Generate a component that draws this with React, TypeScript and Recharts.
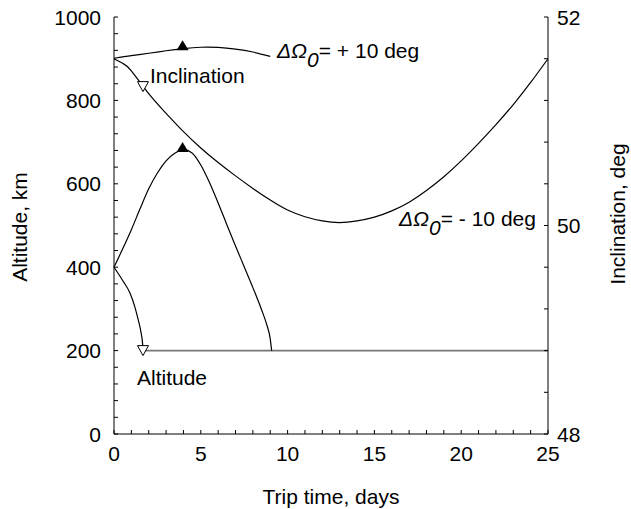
import { ComposedChart, Line, Scatter, XAxis, YAxis } from 'recharts'

// trip time (days) and values
const incPlusT = [0, 1, 2, 3, 4, 5, 6, 7, 8, 9]
const incPlusDeg = [51.604, 51.63, 51.652, 51.676, 51.697, 51.71, 51.708, 51.692, 51.664, 51.622]

const incMinusT = [0, 0.5, 1, 2, 3, 4, 5, 6, 7, 8, 9, 10, 11, 12, 13, 14, 15, 16, 17, 18, 19, 20, 21, 22, 23, 24, 25]
const incMinusDeg = [
  51.6, 51.556, 51.484, 51.264, 51.076, 50.9, 50.744, 50.604, 50.476, 50.356, 50.244, 50.148, 50.084,
  50.044, 50.028, 50.044, 50.08, 50.14, 50.224, 50.336, 50.468, 50.62, 50.788, 50.968, 51.16, 51.372, 51.6,
]

const altPlusT = [0, 0.5, 1, 1.5, 2, 2.5, 3, 3.5, 4, 4.5, 5, 5.5, 6, 6.5, 7, 7.5, 8, 8.5, 8.8, 9, 9.08]
const altPlusKm = [400, 444, 490, 540, 588, 626, 655, 673, 682, 674, 645, 603, 554, 502, 451, 401, 351, 298, 262, 228, 200]

const altMinusT = [0, 0.5, 0.92, 1.2, 1.4, 1.55, 1.65, 1.67]
const altMinusKm = [400, 368, 338, 305, 273, 245, 215, 200]

const altFlatT = [1.67, 25]
const altFlatKm = [200, 200]

// triangle markers
const incPlusMark = [{ t: 3.95, v: 51.72 }]
const altPlusMark = [{ t: 3.95, v: 686 }]
const incMinusMark = [{ t: 1.67, v: 51.332 }]
const altMinusMark = [{ t: 1.67, v: 200 }]

const xTicks = Array.from({ length: 26 }, (_, i) => i)
const xMajor = [0, 5, 10, 15, 20, 25]
const leftTicks = Array.from({ length: 26 }, (_, i) => i * 40)
const leftMajor = [0, 200, 400, 600, 800, 1000]
const rightTicks = Array.from({ length: 11 }, (_, i) => Math.round((48 + i * 0.4) * 10) / 10)
const rightMajor = [48, 50, 52]

const zip = (t: number[], v: number[]) => t.map((x, i) => ({ t: x, v: v[i] }))

const FONT = 'Liberation Sans, Arial, Helvetica, sans-serif'
const FS = 21

const isMajor = (list: number[], v: number) => list.some(m => Math.abs(m - v) < 1e-6)

const BottomTick = ({ x, y, payload }: any) => (
  <g>
    <line x1={x} x2={x} y1={y} y2={y - 4} stroke="#000" />
    {isMajor(xMajor, payload.value) && (
      <text x={x} y={y + 27} textAnchor="middle" fontSize={FS} fontFamily={FONT} fill="#000">
        {payload.value}
      </text>
    )}
  </g>
)

const TopTick = ({ x, y }: any) => <line x1={x} x2={x} y1={y} y2={y + 4} stroke="#000" />

const LeftTick = ({ x, y, payload }: any) => (
  <g>
    <line x1={x} x2={x + 4} y1={y} y2={y} stroke="#000" />
    {isMajor(leftMajor, payload.value) && (
      <text x={x - 13} y={y + 7.5} textAnchor="end" fontSize={FS} fontFamily={FONT} fill="#000">
        {payload.value}
      </text>
    )}
  </g>
)

const RightTick = ({ x, y, payload }: any) => (
  <g>
    <line x1={x} x2={x - 4} y1={y} y2={y} stroke="#000" />
    {isMajor(rightMajor, payload.value) && (
      <text x={x + 9} y={y + 7.5} textAnchor="start" fontSize={FS} fontFamily={FONT} fill="#000">
        {Math.round(payload.value)}
      </text>
    )}
  </g>
)

const UpTri = ({ cx, cy }: any) => (
  <polygon points={`${cx},${cy - 6} ${cx - 6},${cy + 4} ${cx + 6},${cy + 4}`} fill="#000" />
)

const DownTri = ({ cx, cy }: any) => (
  <polygon
    points={`${cx - 5.5},${cy - 5} ${cx + 5.5},${cy - 5} ${cx},${cy + 5}`}
    fill="#fff"
    stroke="#000"
    strokeWidth={1}
  />
)

const DeltaLabel = ({ x, y, sign }: { x: number; y: number; sign: string }) => (
  <text x={x} y={y} fontSize={FS} fontFamily={FONT} fill="#000">
    <tspan fontStyle="italic">ΔΩ</tspan>
    <tspan fontStyle="italic" dy={9}>0</tspan>
    <tspan dy={-9}>{`= ${sign} 10 deg`}</tspan>
  </text>
)

export default function App() {
  return (
    <div style={{ position: 'absolute', left: 0, top: 0, background: '#fff' }}>
      <ComposedChart width={631} height={509} margin={{ top: 17, right: 0, bottom: 0, left: 0 }}>
        <XAxis
          xAxisId="bottom"
          dataKey="t"
          type="number"
          domain={[0, 25]}
          ticks={xTicks}
          interval={0}
          tickSize={0}
          tickMargin={0}
          tickLine={false}
          tick={<BottomTick />}
          axisLine={{ stroke: '#000' }}
          height={75}
          label={{ value: 'Trip time, days', position: 'insideBottom', offset: 5, fontSize: FS, fontFamily: FONT, fill: '#000' }}
        />
        <XAxis
          xAxisId="top"
          orientation="top"
          dataKey="t"
          type="number"
          domain={[0, 25]}
          ticks={xTicks}
          interval={0}
          tickSize={0}
          tickMargin={0}
          tickLine={false}
          tick={<TopTick />}
          axisLine={{ stroke: '#000' }}
          height={0}
        />
        <YAxis
          yAxisId="left"
          type="number"
          domain={[0, 1000]}
          ticks={leftTicks}
          interval={0}
          tickSize={0}
          tickMargin={0}
          tickLine={false}
          tick={<LeftTick />}
          axisLine={{ stroke: '#000' }}
          width={114}
        />
        <YAxis
          yAxisId="right"
          orientation="right"
          type="number"
          domain={[48, 52]}
          ticks={rightTicks}
          interval={0}
          tickSize={0}
          tickMargin={0}
          tickLine={false}
          tick={<RightTick />}
          axisLine={{ stroke: '#000' }}
          width={83}
        />

        <Line xAxisId="bottom" yAxisId="right" data={zip(incPlusT, incPlusDeg)} dataKey="v" type="natural"
          stroke="#000" strokeWidth={1.2} dot={false} activeDot={false} isAnimationActive={false} />
        <Line xAxisId="bottom" yAxisId="right" data={zip(incMinusT, incMinusDeg)} dataKey="v" type="natural"
          stroke="#000" strokeWidth={1.2} dot={false} activeDot={false} isAnimationActive={false} />
        <Line xAxisId="bottom" yAxisId="left" data={zip(altFlatT, altFlatKm)} dataKey="v" type="linear"
          stroke="#777" strokeWidth={1.6} dot={false} activeDot={false} isAnimationActive={false} />
        <Line xAxisId="bottom" yAxisId="left" data={zip(altPlusT, altPlusKm)} dataKey="v" type="monotone"
          stroke="#000" strokeWidth={1.2} dot={false} activeDot={false} isAnimationActive={false} />
        <Line xAxisId="bottom" yAxisId="left" data={zip(altMinusT, altMinusKm)} dataKey="v" type="monotone"
          stroke="#000" strokeWidth={1.2} dot={false} activeDot={false} isAnimationActive={false} />

        <Scatter xAxisId="bottom" yAxisId="right" data={incPlusMark} dataKey="v" shape={<UpTri />} isAnimationActive={false} />
        <Scatter xAxisId="bottom" yAxisId="left" data={altPlusMark} dataKey="v" shape={<UpTri />} isAnimationActive={false} />
        <Scatter xAxisId="bottom" yAxisId="right" data={incMinusMark} dataKey="v" shape={<DownTri />} isAnimationActive={false} />
        <Scatter xAxisId="bottom" yAxisId="left" data={altMinusMark} dataKey="v" shape={<DownTri />} isAnimationActive={false} />

        <text x={150} y={83} fontSize={FS} fontFamily={FONT} fill="#000">Inclination</text>
        <text x={137} y={385} fontSize={FS} fontFamily={FONT} fill="#000">Altitude</text>
        <DeltaLabel x={277} y={58} sign="+" />
        <DeltaLabel x={399} y={226} sign="-" />
        <text x={27} y={227} transform="rotate(-90 27 227)" textAnchor="middle" fontSize={FS} fontFamily={FONT} fill="#000">
          Altitude, km
        </text>
        <text x={625} y={214} transform="rotate(-90 625 214)" textAnchor="middle" fontSize={FS} fontFamily={FONT} fill="#000">
          Inclination, deg
        </text>
      </ComposedChart>
    </div>
  )
}
